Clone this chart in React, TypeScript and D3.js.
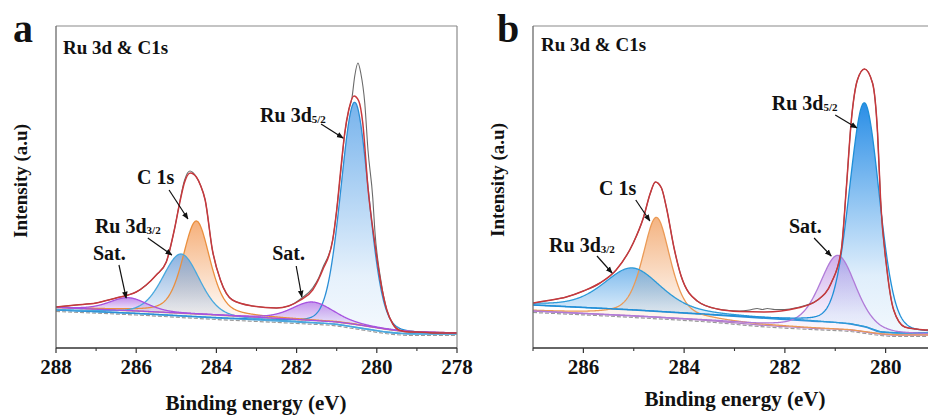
import React from 'react';
import * as d3 from 'd3';

// ---------- Panel a data (binding energy eV, intensity a.u.) ----------
const aMajorTicks = [288, 286, 284, 282, 280, 278];
const aMinorTicks = [287, 285, 283, 281, 279];
const aBgUpperE = [288, 286, 284, 282, 281, 280.6, 280.2, 279.8, 279.4, 279, 278];
const aBgUpperV = [40.5, 37, 33, 28.5, 26, 24, 21.5, 19, 17, 16, 15];
const aBgLowerE = [288, 286, 284, 282, 281, 280.6, 280.2, 279.8, 279.4, 279, 278];
const aBgLowerV = [38, 34.5, 30, 26, 23.5, 21, 18.5, 16, 14.5, 14, 14];
const aEnvE = [288, 287.5, 287, 286.5, 286.2, 286, 285.75, 285.5, 285.25, 285.05, 284.9, 284.8, 284.65, 284.5, 284.4, 284.28, 284.1, 283.9, 283.6, 283.1, 282.5, 282.2, 281.9, 281.6, 281.35, 281.1, 281.0, 280.9, 280.8, 280.7, 280.57, 280.45, 280.35, 280.22, 280.05, 279.9, 279.75, 279.6, 279.45, 279.2, 279, 278.5, 278];
const aEnvV = [41, 43, 45, 50, 53, 56, 63, 73, 86, 118, 148, 165, 175, 171, 163, 148, 98, 68, 48, 42, 40, 42, 48, 58, 78, 108, 138, 178, 215, 238, 252, 247, 225, 160, 105, 65, 38, 24, 18, 16, 16, 15, 15];
const aRawE = [288, 287.5, 287, 286.5, 286.2, 286, 285.75, 285.5, 285.25, 285.05, 284.9, 284.8, 284.66, 284.5, 284.4, 284.28, 284.1, 283.9, 283.6, 283.1, 282.5, 282.2, 281.9, 281.6, 281.45, 281.35, 281.1, 281.0, 280.9, 280.8, 280.7, 280.62, 280.55, 280.47, 280.4, 280.3, 280.22, 280.1, 280.05, 279.9, 279.75, 279.6, 279.45, 279.2, 279, 278.5, 278];
const aRawV = [41, 43, 45, 50, 53, 56, 63, 73, 86, 118, 149, 167, 177, 171, 163, 148, 98, 68, 48, 42, 40, 42, 49, 60, 70, 80, 108, 138, 176, 214, 238, 250, 272, 285, 275, 245, 198, 150, 118, 68, 38, 24, 18, 16, 16, 15, 15];
const aPeakNames = ['Sat. 286.2', 'C 1s', 'Ru 3d3/2', 'Sat. 281.6', 'Ru 3d5/2'];
const aPeakCenter = [286.2, 284.5, 284.88, 281.6, 280.55];
const aPeakHeight = [13, 93, 62, 18.5, 225];
const aPeakFwhm = [1.1, 0.8, 1.1, 1.2, 0.82];
const aPeakMix = [0.3, 0.4, 0.3, 0.3, 0.15];
const aPeakBase = ['upper', 'upper', 'lower', 'upper', 'lower'];
const aLabelText = ['Ru 3d', 'C 1s', 'Ru 3d', 'Sat.', 'Sat.'];
const aLabelSub = ['5/2', '', '3/2', '', ''];
const aLabelE = [282.91, 285.98, 287.03, 287.08, 282.61];
const aLabelV = [226, 164, 115, 88, 88];
const aArrowE0 = [281.39, 285.18, 285.71, 286.43, 282.01];
const aArrowV0 = [224, 158, 110, 83, 82];
const aArrowE1 = [280.84, 284.71, 285.11, 286.25, 281.87];
const aArrowV1 = [210, 129, 93, 50, 51];

// ---------- Panel b data ----------
const bMajorTicks = [286, 284, 282, 280];
const bMinorTicks = [287, 285, 283, 281, 279];
const bBgUpperE = [287, 285, 283.4, 282.5, 281.5, 280.7, 280.4, 280.1, 279.8, 279];
const bBgUpperV = [43, 38, 33, 30, 27, 24, 21, 16, 15, 15];
const bBgLowerE = [287, 285, 283.4, 282.5, 281.5, 280.7, 280.4, 280.1, 279.8, 279];
const bBgLowerV = [37, 32, 27, 23, 20, 18, 16, 14, 13, 13];
const bEnvE = [287, 286.7, 286.34, 286.0, 285.67, 285.35, 285.01, 284.81, 284.67, 284.57, 284.45, 284.35, 284.2, 284.06, 283.74, 283.34, 282.9, 282.4, 281.75, 281.35, 281.08, 280.88, 280.78, 280.68, 280.56, 280.42, 280.26, 280.16, 280.1, 279.98, 279.84, 279.62, 279.4, 279.17, 279];
const bEnvV = [45, 47.5, 51, 57, 65, 78, 105, 130, 155, 166, 160, 140, 100, 72, 47, 39, 36.5, 36, 40, 48, 65, 98, 160, 228, 268, 279, 265, 215, 148, 81, 38, 21, 19, 18, 18];
const bRawE = [287, 286.7, 286.34, 286.0, 285.67, 285.35, 285.01, 284.81, 284.67, 284.57, 284.45, 284.35, 284.2, 284.06, 283.74, 283.34, 282.9, 282.7, 282.55, 282.45, 282.35, 282.2, 282.0, 281.75, 281.35, 281.08, 280.88, 280.78, 280.68, 280.56, 280.42, 280.26, 280.16, 280.1, 279.98, 279.84, 279.62, 279.4, 279.17, 279];
const bRawV = [45, 47.5, 51, 57, 65, 78, 105, 130, 155, 166, 160, 140, 100, 72, 47, 39, 37, 38, 39.5, 38.5, 39.5, 38.5, 38.5, 40.5, 48, 65, 98, 160, 228, 268, 279, 265, 215, 148, 81, 38, 21, 19, 18, 18];
const bPeakNames = ['C 1s', 'Ru 3d3/2', 'Sat.', 'Ru 3d5/2'];
const bPeakCenter = [284.55, 285.03, 280.95, 280.42];
const bPeakHeight = [100, 42, 74, 224];
const bPeakFwhm = [0.65, 1.35, 0.85, 0.7];
const bPeakMix = [0.5, 0.4, 0.4, 0.15];
const bPeakBase = ['lower', 'upper', 'lower', 'upper'];
const bLabelText = ['Ru 3d', 'C 1s', 'Ru 3d', 'Sat.'];
const bLabelSub = ['5/2', '', '3/2', ''];
const bLabelE = [282.26, 285.69, 286.68, 281.92];
const bLabelV = [238, 153, 96, 115];
const bArrowE0 = [281.0, 284.96, 285.73, 281.42];
const bArrowV0 = [233, 148, 92, 110];
const bArrowE1 = [280.57, 284.68, 285.43, 281.08];
const bArrowV1 = [220, 127, 75, 92];

// ---------- styles ----------
const aStroke = ['#a652e0', '#ea8f3e', '#48a8de', '#a652e0', '#2b8fd6'];
const aFill = ['#b57be8', '#f4a263', '#6f9fd8', '#b57be8', '#4a9ae6'];
const aFillTop = [0.85, 0.85, 0.8, 0.8, 0.75];
const aBgColors = ['#e89a55', '#4fa8dc'];
const bStroke = ['#eb9a55', '#2d9ad8', '#b07ad8', '#1f8fd8'];
const bFill = ['#f2a66b', '#4b9fe6', '#c49be6', '#1e88e5'];
const bFillTop = [0.85, 0.7, 0.8, 0.95];
const bBgColors = ['#2d8fd8', '#b27cc8'];
const FONT = "Liberation Serif, DejaVu Serif, Times New Roman, serif";

function pv(x: number, c: number, h: number, w: number, eta: number) {
  const t = (x - c) / w;
  return h * ((1 - eta) * Math.exp(-4 * Math.LN2 * t * t) + eta / (1 + 4 * t * t));
}

type PanelProps = {
  id: string;
  letter: string;
  xDomain: [number, number];
  xRange: [number, number];
  drawRight: boolean;
  major: number[];
  minor: number[];
  bgU: [number[], number[]];
  bgL: [number[], number[]];
  bgColors: string[];
  env: [number[], number[]];
  raw: [number[], number[]];
  peaks: { c: number; h: number; w: number; eta: number; base: string; stroke: string; fill: string; top: number }[];
  order: number[];
  labels: { t: string; sub: string; e: number; v: number; e0: number; v0: number; e1: number; v1: number }[];
  titleX: number; titleY: number;
  letterX: number;
  yLabelX: number; yLabelY: number;
  xTitleX: number; xTitleY: number;
};

function Panel(p: PanelProps) {
  const x = d3.scaleLinear().domain(p.xDomain).range(p.xRange);
  const y = d3.scaleLinear().domain([0, 322]).range([348, 26]);
  const bgU = d3.scaleLinear().domain(p.bgU[0]).range(p.bgU[1]);
  const bgL = d3.scaleLinear().domain(p.bgL[0]).range(p.bgL[1]);
  const lo = Math.min(...p.xDomain), hi = Math.max(...p.xDomain);
  const grid = d3.range(lo, hi + 0.0001, 0.01);
  const left = p.xRange[0];
  const right = Math.min(p.xRange[1], 928);
  const line = d3.line<[number, number]>().x(d => x(d[0])).y(d => y(d[1])).curve(d3.curveMonotoneX);
  const comps = p.peaks.map(pk => {
    const base = pk.base === 'upper' ? bgU : bgL;
    const pts = grid.map(e => ({ e, b: base(e), v: pv(e, pk.c, pk.h, pk.w, pk.eta) }));
    const area = d3.area<{ e: number; b: number; v: number }>()
      .x(d => x(d.e)).y0(d => y(d.b)).y1(d => y(d.b + d.v))(pts.filter(d => d.v > 0.2));
    const ln = d3.line<{ e: number; b: number; v: number }>().x(d => x(d.e)).y(d => y(d.b + d.v))(pts);
    return { area, ln };
  });
  const zip = (a: [number[], number[]]) => a[0].map((e, i) => [e, a[1][i]] as [number, number]);
  const txt = { fontFamily: FONT, fontWeight: 700 as const };
  return (
    <g>
      <defs>
        <clipPath id={`clip-${p.id}`}>
          <rect x={left} y={26} width={right - left} height={322} />
        </clipPath>
        {p.peaks.map((pk, i) => (
          <linearGradient key={i} id={`g-${p.id}-${i}`} x1="0" y1="0" x2="0" y2="1">
            <stop offset="0" stopColor={pk.fill} stopOpacity={pk.top} />
            <stop offset="0.75" stopColor={pk.fill} stopOpacity={0.14} />
            <stop offset="1" stopColor={pk.fill} stopOpacity={0.06} />
          </linearGradient>
        ))}
      </defs>
      <g clipPath={`url(#clip-${p.id})`}>
        <path d={line(zip(p.bgL)) || ''} transform="translate(0,1.5)" fill="none" stroke="#9a9a9a" strokeWidth={1.2} strokeDasharray="4,2" />
        <path d={line(zip(p.bgU)) || ''} fill="none" stroke={p.bgColors[0]} strokeWidth={1.4} />
        <path d={line(zip(p.bgL)) || ''} fill="none" stroke={p.bgColors[1]} strokeWidth={1.4} />
        {p.order.map(i => (
          <path key={'f' + i} d={comps[i].area || ''} fill={`url(#g-${p.id}-${i})`} stroke="none" />
        ))}
        {p.order.map(i => (
          <path key={'s' + i} d={comps[i].ln || ''} fill="none" stroke={p.peaks[i].stroke} strokeWidth={1.3} />
        ))}
        <path d={line(zip(p.raw)) || ''} fill="none" stroke="#6a6a6a" strokeWidth={1.1} />
        <path d={line(zip(p.env)) || ''} fill="none" stroke="#c8383c" strokeWidth={1.5} />
      </g>
      <line x1={left} x2={right} y1={26} y2={26} stroke="#8a8a8a" strokeWidth={1.2} />
      {p.drawRight && <line x1={right} x2={right} y1={26} y2={348} stroke="#8a8a8a" strokeWidth={1.2} />}
      <line x1={left} x2={left} y1={26} y2={348} stroke="#6a6a6a" strokeWidth={1.3} />
      <line x1={left} x2={right} y1={348} y2={348} stroke="#333" strokeWidth={1.3} />
      {p.major.map(t => (
        <g key={'M' + t}>
          <line x1={x(t)} x2={x(t)} y1={348} y2={353} stroke="#333" strokeWidth={1.2} />
          <text x={x(t)} y={374} textAnchor="middle" style={txt} fontSize={21} fill="#111">{t}</text>
        </g>
      ))}
      {p.minor.map(t => (
        <line key={'m' + t} x1={x(t)} x2={x(t)} y1={348} y2={351} stroke="#333" strokeWidth={1.1} />
      ))}
      {p.labels.map((l, i) => (
        <g key={'l' + i}>
          <text x={x(l.e)} y={y(l.v)} style={txt} fontSize={20} fill="#111">
            {l.t}
            {l.sub && <tspan fontSize={11} dy={1}>{l.sub}</tspan>}
          </text>
          <line x1={x(l.e0)} y1={y(l.v0)} x2={x(l.e1)} y2={y(l.v1)} stroke="#111" strokeWidth={1.2} markerEnd="url(#arrowhead)" />
        </g>
      ))}
      <text x={p.titleX} y={p.titleY} style={txt} fontSize={19} fill="#111">Ru 3d &amp; C1s</text>
      <text x={p.letterX} y={42} style={txt} fontSize={40} fill="#111">{p.letter}</text>
      <text transform={`translate(${p.yLabelX},${p.yLabelY}) rotate(-90)`} textAnchor="middle" style={txt} fontSize={19} fill="#111">Intensity (a.u)</text>
      <text x={p.xTitleX} y={p.xTitleY} textAnchor="middle" style={txt} fontSize={21} fill="#111">Binding energy (eV)</text>
    </g>
  );
}

function mkPeaks(c: number[], h: number[], w: number[], eta: number[], base: string[], stroke: string[], fill: string[], top: number[]) {
  return c.map((_, i) => ({ c: c[i], h: h[i], w: w[i], eta: eta[i], base: base[i], stroke: stroke[i], fill: fill[i], top: top[i] }));
}
function mkLabels(t: string[], sub: string[], e: number[], v: number[], e0: number[], v0: number[], e1: number[], v1: number[]) {
  return t.map((_, i) => ({ t: t[i], sub: sub[i], e: e[i], v: v[i], e0: e0[i], v0: v0[i], e1: e1[i], v1: v1[i] }));
}

export default function App() {
  return (
    <svg width={928} height={417} viewBox="0 0 928 417" style={{ position: 'absolute', left: 0, top: 0, background: '#fff' }}>
      <defs>
        <marker id="arrowhead" viewBox="0 0 10 10" refX="9" refY="5" markerUnits="userSpaceOnUse" markerWidth="7" markerHeight="7" orient="auto">
          <path d="M0,1 L10,5 L0,9 z" fill="#111" />
        </marker>
      </defs>
      <rect x={0} y={0} width={928} height={417} fill="#fff" />
      <Panel
        id="a" letter="a" xDomain={[288, 278]} xRange={[56, 457]} drawRight={true}
        major={aMajorTicks} minor={aMinorTicks}
        bgU={[aBgUpperE, aBgUpperV]} bgL={[aBgLowerE, aBgLowerV]} bgColors={aBgColors}
        env={[aEnvE, aEnvV]} raw={[aRawE, aRawV]}
        peaks={mkPeaks(aPeakCenter, aPeakHeight, aPeakFwhm, aPeakMix, aPeakBase, aStroke, aFill, aFillTop)}
        order={[4, 1, 2, 3, 0]}
        labels={mkLabels(aLabelText, aLabelSub, aLabelE, aLabelV, aArrowE0, aArrowV0, aArrowE1, aArrowV1)}
        titleX={63} titleY={54} letterX={13} yLabelX={27} yLabelY={181} xTitleX={256} xTitleY={410}
      />
      <Panel
        id="b" letter="b" xDomain={[287, 279]} xRange={[533, 936]} drawRight={false}
        major={bMajorTicks} minor={bMinorTicks}
        bgU={[bBgUpperE, bBgUpperV]} bgL={[bBgLowerE, bBgLowerV]} bgColors={bBgColors}
        env={[bEnvE, bEnvV]} raw={[bRawE, bRawV]}
        peaks={mkPeaks(bPeakCenter, bPeakHeight, bPeakFwhm, bPeakMix, bPeakBase, bStroke, bFill, bFillTop)}
        order={[0, 1, 2, 3]}
        labels={mkLabels(bLabelText, bLabelSub, bLabelE, bLabelV, bArrowE0, bArrowV0, bArrowE1, bArrowV1)}
        titleX={541} titleY={51} letterX={497} yLabelX={504} yLabelY={180} xTitleX={735} xTitleY={406}
      />
    </svg>
  );
}
